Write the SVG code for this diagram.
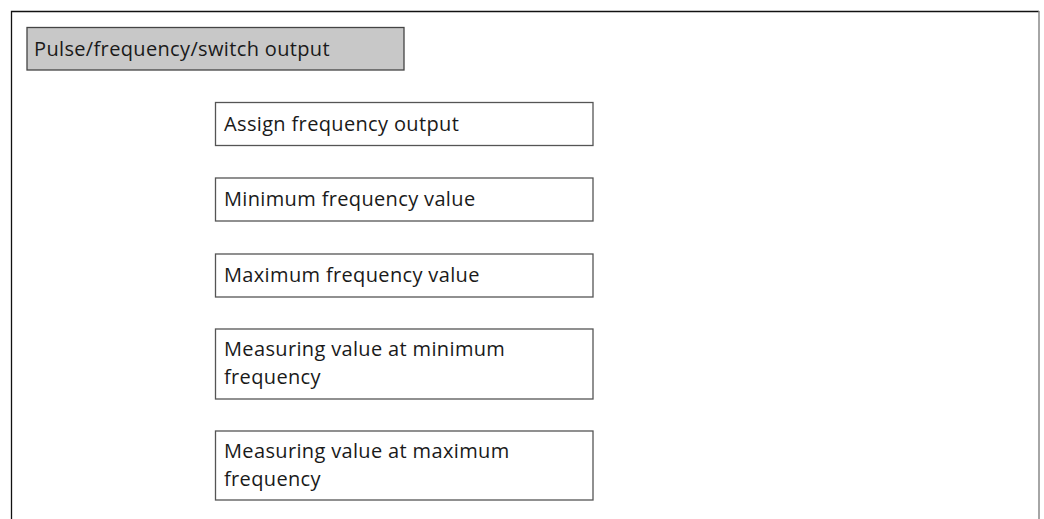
<svg xmlns="http://www.w3.org/2000/svg" width="1044" height="519" viewBox="0 0 1044 519">
<style>
.t{font-family:"Open Sans","Noto Sans",sans-serif;font-size:20px;letter-spacing:0.35px;fill:#1a1a1a}
.box{fill:#fff;stroke:#555;stroke-width:1.3}
.hdr{fill:#c8c8c8;stroke:#444;stroke-width:1.3}
</style>
<rect width="1044" height="519" fill="#fff"/>
<g id="frame">
<path d="M11.5 519 V11.5 H1039" fill="none" stroke="#111" stroke-width="1.3"/>
<path d="M1039 11 V519" fill="none" stroke="#888" stroke-width="1.5"/>
</g>
<g id="header">
<rect class="hdr" x="27" y="27.5" width="377" height="42.5"/>
<text class="t" x="34" y="56">Pulse/frequency/switch output</text>
</g>
<g id="n1">
<rect class="box" x="215.5" y="102.5" width="377.5" height="43"/>
<text class="t" x="224" y="131">Assign frequency output</text>
</g>
<g id="n2">
<rect class="box" x="215.5" y="178" width="377.5" height="43"/>
<text class="t" x="224" y="206">Minimum frequency value</text>
</g>
<g id="n3">
<rect class="box" x="215.5" y="254" width="377.5" height="43"/>
<text class="t" x="224" y="282">Maximum frequency value</text>
</g>
<g id="n4">
<rect class="box" x="215.5" y="329" width="377.5" height="70"/>
<text class="t" x="224" y="356">Measuring value at minimum</text>
<text class="t" x="224" y="384">frequency</text>
</g>
<g id="n5">
<rect class="box" x="215.5" y="431" width="377.5" height="69"/>
<text class="t" x="224" y="458">Measuring value at maximum</text>
<text class="t" x="224" y="486">frequency</text>
</g>
<g id="connectors"/>
</svg>
